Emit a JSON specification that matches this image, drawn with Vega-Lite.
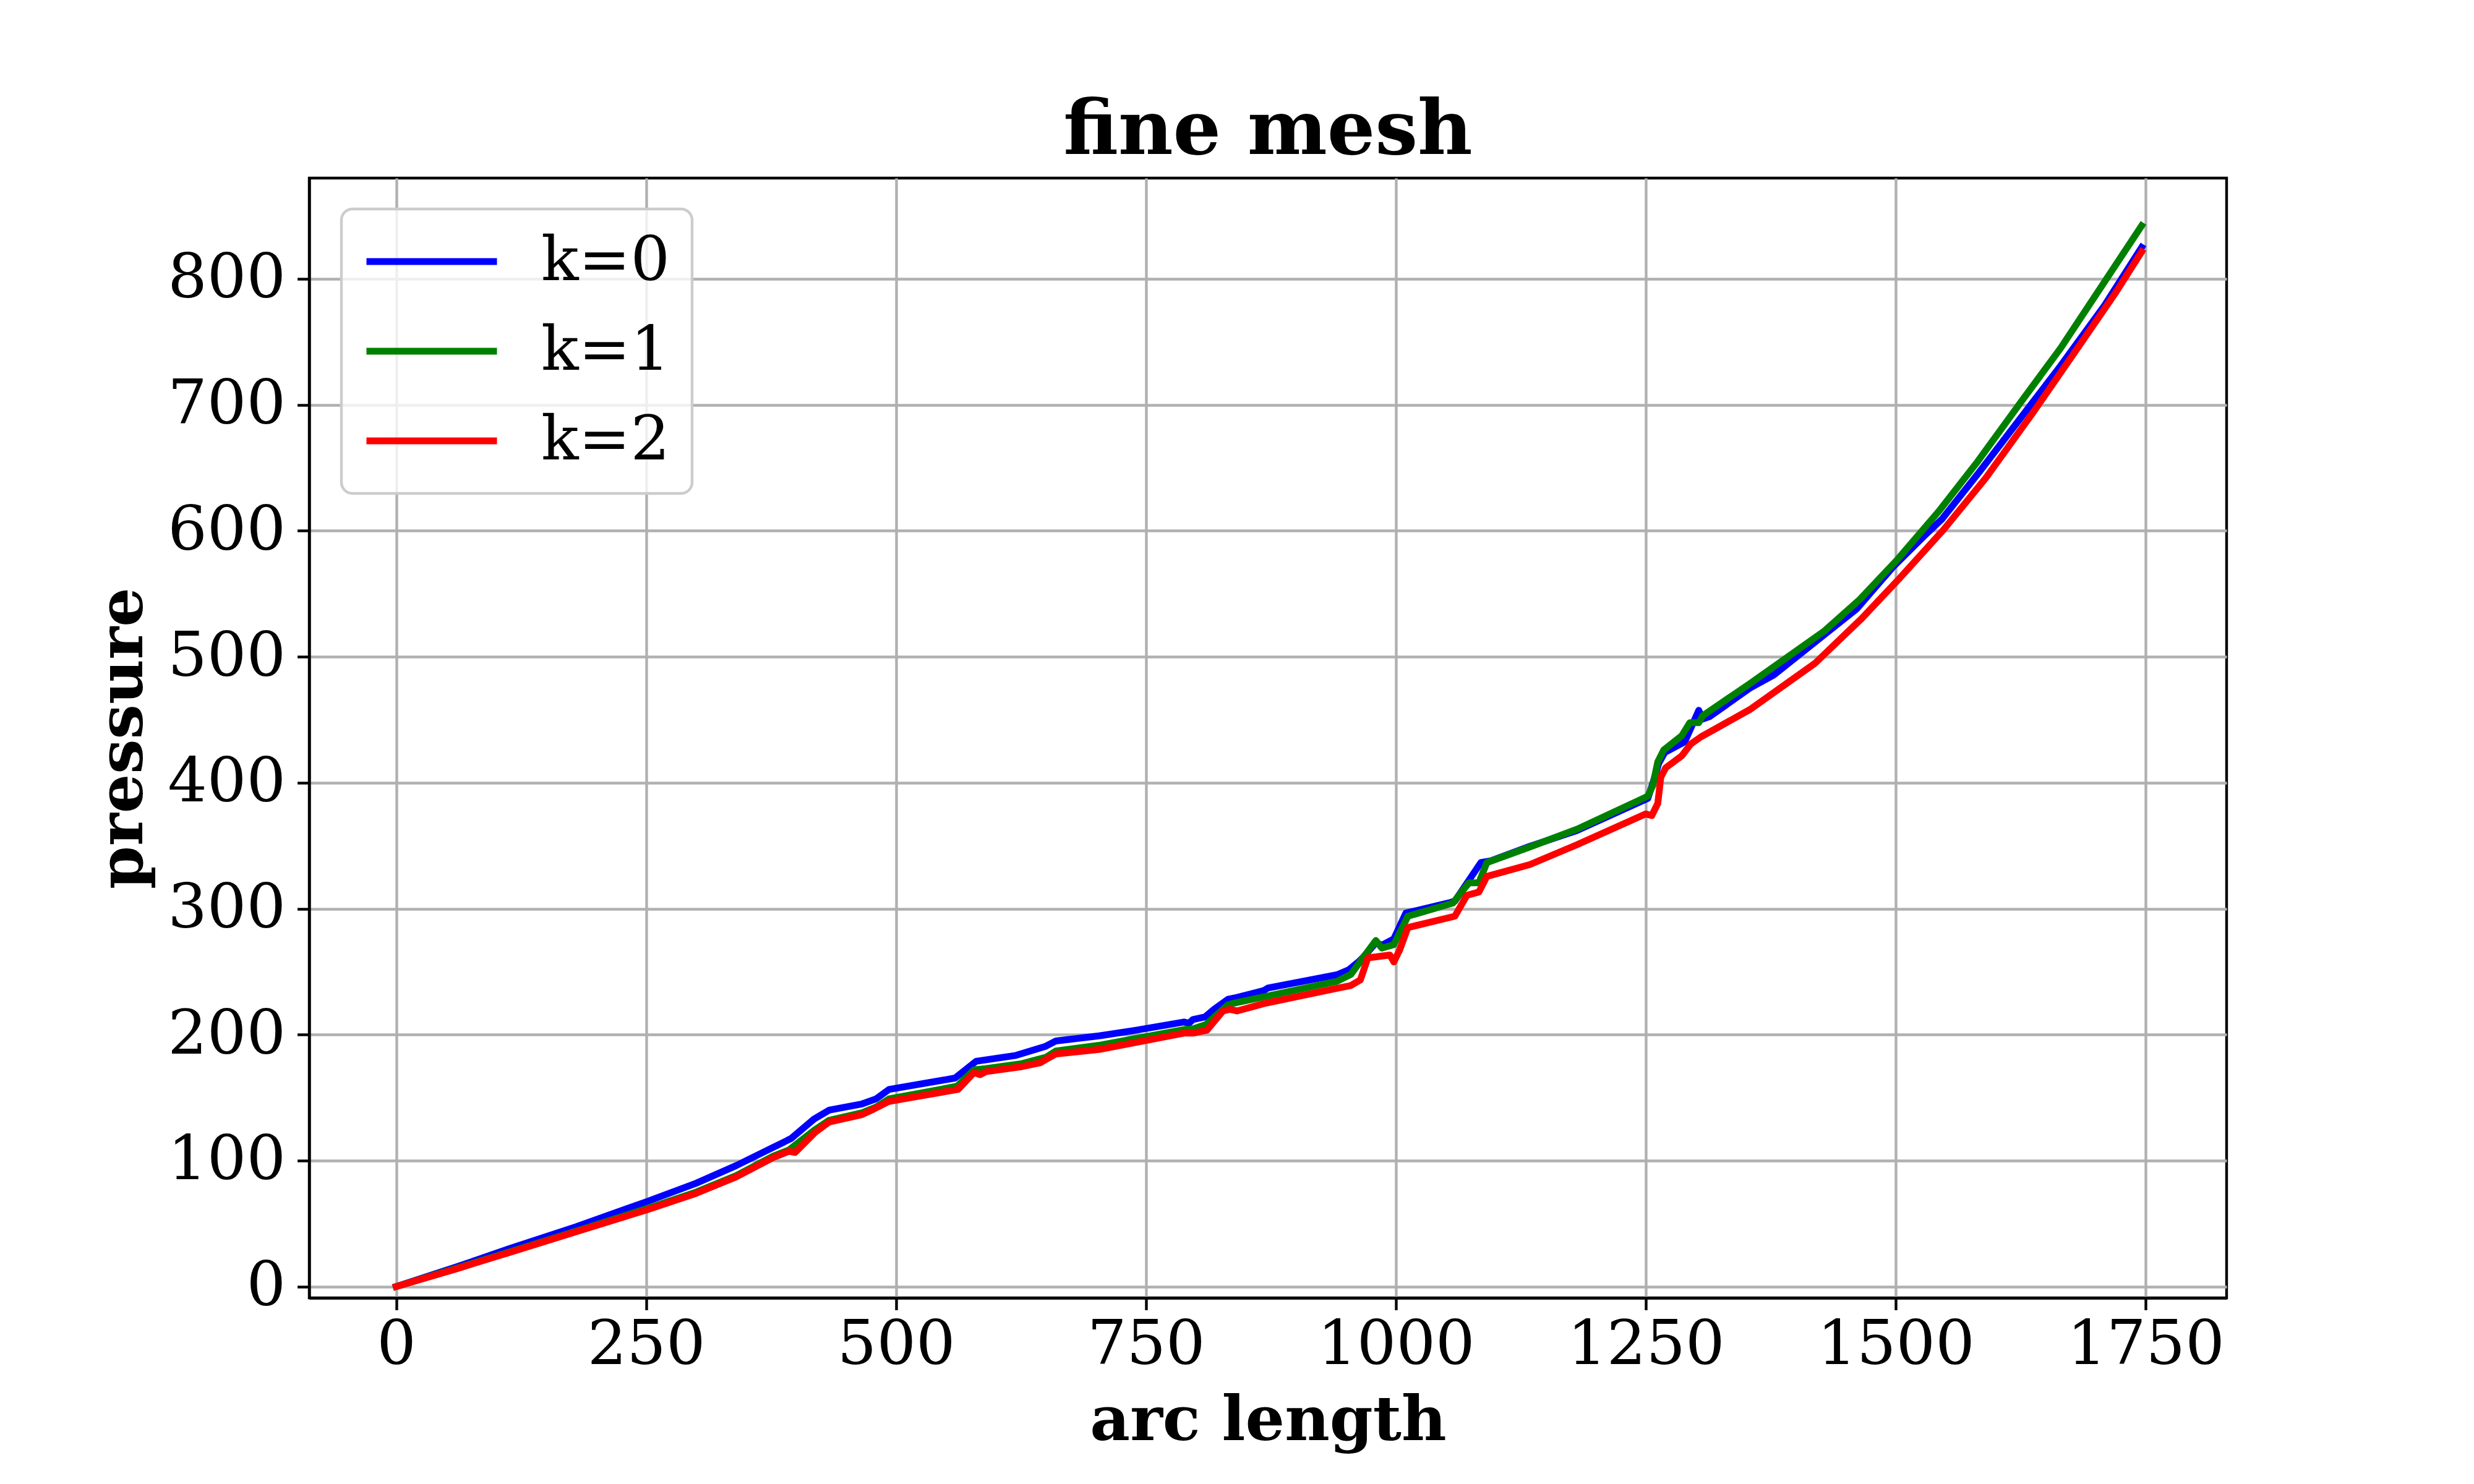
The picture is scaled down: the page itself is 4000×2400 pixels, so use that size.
{
  "$schema": "https://vega.github.io/schema/vega-lite/v6.json",
  "autosize": {"type": "none"},
  "width": 3100,
  "height": 1811,
  "padding": {"left": 500, "top": 288, "right": 400, "bottom": 301},
  "background": "white",
  "title": {"text": "fine mesh", "font": "DejaVu Serif", "fontSize": 122, "fontWeight": "bold", "color": "black", "anchor": "middle", "baseline": "alphabetic", "offset": -83, "frame": "group"},
  "data": {"values": [
    {"k":"k=0","s":0,"p":0},{"k":"k=0","s":60,"p":15.5},{"k":"k=0","s":113,"p":30},{"k":"k=0","s":180,"p":47.5},{"k":"k=0","s":251,"p":67.5},{"k":"k=0","s":300,"p":82},{"k":"k=0","s":340,"p":96},{"k":"k=0","s":377,"p":110.5},{"k":"k=0","s":395,"p":117.5},{"k":"k=0","s":418,"p":133},{"k":"k=0","s":433,"p":140},{"k":"k=0","s":466,"p":145},{"k":"k=0","s":480,"p":149},{"k":"k=0","s":493,"p":156.5},{"k":"k=0","s":559,"p":165.5},{"k":"k=0","s":580,"p":178.8},{"k":"k=0","s":620,"p":183.5},{"k":"k=0","s":649,"p":190.5},{"k":"k=0","s":660,"p":195},{"k":"k=0","s":703,"p":199},{"k":"k=0","s":740,"p":203.5},{"k":"k=0","s":788,"p":210},{"k":"k=0","s":793,"p":209},{"k":"k=0","s":797,"p":212},{"k":"k=0","s":809,"p":214},{"k":"k=0","s":818,"p":220},{"k":"k=0","s":832,"p":228},{"k":"k=0","s":841,"p":229.5},{"k":"k=0","s":868,"p":235},{"k":"k=0","s":872,"p":237},{"k":"k=0","s":941,"p":247.5},{"k":"k=0","s":953,"p":251.5},{"k":"k=0","s":963,"p":258},{"k":"k=0","s":968,"p":262},{"k":"k=0","s":980,"p":273},{"k":"k=0","s":986,"p":271},{"k":"k=0","s":998,"p":276},{"k":"k=0","s":1010,"p":296.5},{"k":"k=0","s":1055,"p":305},{"k":"k=0","s":1059,"p":306},{"k":"k=0","s":1085,"p":336.6},{"k":"k=0","s":1095,"p":338},{"k":"k=0","s":1134,"p":349.5},{"k":"k=0","s":1181,"p":362},{"k":"k=0","s":1252,"p":387.5},{"k":"k=0","s":1257,"p":399.5},{"k":"k=0","s":1263,"p":415.5},{"k":"k=0","s":1269,"p":424},{"k":"k=0","s":1289,"p":432.5},{"k":"k=0","s":1303,"p":457.5},{"k":"k=0","s":1307,"p":450.5},{"k":"k=0","s":1314,"p":452.5},{"k":"k=0","s":1354,"p":475},{"k":"k=0","s":1378,"p":485.5},{"k":"k=0","s":1461,"p":538},{"k":"k=0","s":1497,"p":571},{"k":"k=0","s":1528,"p":595.5},{"k":"k=0","s":1546,"p":609},{"k":"k=0","s":1583,"p":646},{"k":"k=0","s":1637,"p":702},{"k":"k=0","s":1665,"p":731},{"k":"k=0","s":1709,"p":779},{"k":"k=0","s":1746,"p":825},
    {"k":"k=1","s":0,"p":0},{"k":"k=1","s":60,"p":14.5},{"k":"k=1","s":113,"p":27.5},{"k":"k=1","s":180,"p":44},{"k":"k=1","s":251,"p":62},{"k":"k=1","s":300,"p":75},{"k":"k=1","s":340,"p":88},{"k":"k=1","s":377,"p":103.5},{"k":"k=1","s":393,"p":108.5},{"k":"k=1","s":418,"p":124},{"k":"k=1","s":433,"p":132},{"k":"k=1","s":466,"p":138},{"k":"k=1","s":480,"p":142.5},{"k":"k=1","s":493,"p":149},{"k":"k=1","s":561,"p":159},{"k":"k=1","s":578,"p":172},{"k":"k=1","s":590,"p":173},{"k":"k=1","s":626,"p":177},{"k":"k=1","s":650,"p":182},{"k":"k=1","s":660,"p":187},{"k":"k=1","s":703,"p":191.5},{"k":"k=1","s":788,"p":204},{"k":"k=1","s":797,"p":204.5},{"k":"k=1","s":810,"p":208},{"k":"k=1","s":832,"p":223.6},{"k":"k=1","s":838,"p":225},{"k":"k=1","s":868,"p":230},{"k":"k=1","s":941,"p":242.3},{"k":"k=1","s":955,"p":247.8},{"k":"k=1","s":968,"p":262},{"k":"k=1","s":980,"p":274.7},{"k":"k=1","s":986,"p":268.7},{"k":"k=1","s":998,"p":271.4},{"k":"k=1","s":1012,"p":294},{"k":"k=1","s":1057,"p":304.4},{"k":"k=1","s":1073,"p":320.5},{"k":"k=1","s":1083,"p":320.5},{"k":"k=1","s":1091,"p":336.6},{"k":"k=1","s":1134,"p":349},{"k":"k=1","s":1181,"p":363},{"k":"k=1","s":1252,"p":389.3},{"k":"k=1","s":1257,"p":397.7},{"k":"k=1","s":1262,"p":416.6},{"k":"k=1","s":1268,"p":426},{"k":"k=1","s":1286,"p":437.3},{"k":"k=1","s":1294,"p":447.6},{"k":"k=1","s":1303,"p":447.6},{"k":"k=1","s":1307,"p":453.2},{"k":"k=1","s":1354,"p":478.6},{"k":"k=1","s":1428,"p":520},{"k":"k=1","s":1464,"p":545.4},{"k":"k=1","s":1502,"p":577.4},{"k":"k=1","s":1543,"p":615.4},{"k":"k=1","s":1582,"p":655},{"k":"k=1","s":1626,"p":703},{"k":"k=1","s":1665,"p":745},{"k":"k=1","s":1709,"p":797.8},{"k":"k=1","s":1746,"p":842.2},
    {"k":"k=2","s":0,"p":0},{"k":"k=2","s":60,"p":14},{"k":"k=2","s":113,"p":27},{"k":"k=2","s":180,"p":43.5},{"k":"k=2","s":251,"p":61},{"k":"k=2","s":300,"p":74},{"k":"k=2","s":340,"p":87},{"k":"k=2","s":377,"p":102.4},{"k":"k=2","s":393,"p":107.4},{"k":"k=2","s":399,"p":106.4},{"k":"k=2","s":419,"p":122.4},{"k":"k=2","s":433,"p":130.6},{"k":"k=2","s":466,"p":136.5},{"k":"k=2","s":478,"p":141},{"k":"k=2","s":493,"p":147},{"k":"k=2","s":562,"p":156.5},{"k":"k=2","s":578,"p":169.9},{"k":"k=2","s":584,"p":168.2},{"k":"k=2","s":590,"p":170.6},{"k":"k=2","s":626,"p":174.6},{"k":"k=2","s":644,"p":177.6},{"k":"k=2","s":652,"p":181.2},{"k":"k=2","s":660,"p":184.7},{"k":"k=2","s":703,"p":188.2},{"k":"k=2","s":788,"p":201.2},{"k":"k=2","s":797,"p":201.2},{"k":"k=2","s":811,"p":203.5},{"k":"k=2","s":827,"p":218.8},{"k":"k=2","s":834,"p":220},{"k":"k=2","s":841,"p":218.8},{"k":"k=2","s":870,"p":225},{"k":"k=2","s":941,"p":236.8},{"k":"k=2","s":955,"p":239},{"k":"k=2","s":964.5,"p":243.4},{"k":"k=2","s":972,"p":261},{"k":"k=2","s":980,"p":261.7},{"k":"k=2","s":994,"p":263.2},{"k":"k=2","s":998,"p":257.7},{"k":"k=2","s":1004,"p":267.6},{"k":"k=2","s":1012,"p":285},{"k":"k=2","s":1059,"p":294},{"k":"k=2","s":1071,"p":310.6},{"k":"k=2","s":1083,"p":313.2},{"k":"k=2","s":1091,"p":325.6},{"k":"k=2","s":1134,"p":335},{"k":"k=2","s":1181,"p":350.7},{"k":"k=2","s":1250,"p":375.2},{"k":"k=2","s":1256,"p":373.9},{"k":"k=2","s":1262,"p":383.6},{"k":"k=2","s":1265,"p":404.3},{"k":"k=2","s":1270,"p":411.9},{"k":"k=2","s":1286,"p":421.3},{"k":"k=2","s":1295,"p":430.7},{"k":"k=2","s":1305,"p":436.3},{"k":"k=2","s":1354,"p":458},{"k":"k=2","s":1419,"p":494.6},{"k":"k=2","s":1466,"p":530.4},{"k":"k=2","s":1504,"p":562.4},{"k":"k=2","s":1548,"p":601},{"k":"k=2","s":1590,"p":641.8},{"k":"k=2","s":1637,"p":693.4},{"k":"k=2","s":1681,"p":744},{"k":"k=2","s":1720,"p":789},{"k":"k=2","s":1746,"p":821.5}
  ]},
  "mark": {"type": "line", "strokeWidth": 11, "strokeJoin": "round", "strokeCap": "square"},
  "encoding": {
    "x": {
      "field": "s", "type": "quantitative",
      "scale": {"domain": [-87, 1831], "nice": false, "zero": false},
      "axis": {"values": [0, 250, 500, 750, 1000, 1250, 1500, 1750], "format": "d", "title": "arc length", "titlePadding": 24, "labelPadding": 8}
    },
    "y": {
      "field": "p", "type": "quantitative",
      "scale": {"domain": [-9, 880], "nice": false, "zero": false},
      "axis": {"values": [0, 100, 200, 300, 400, 500, 600, 700, 800], "format": "d", "title": "pressure", "titlePadding": 50, "labelPadding": 19}
    },
    "color": {
      "field": "k", "type": "nominal",
      "scale": {"domain": ["k=0", "k=1", "k=2"], "range": ["#0000ff", "#008000", "#ff0000"]},
      "legend": {
        "title": null, "orient": "none", "legendX": 52, "legendY": 50, "direction": "vertical",
        "symbolType": "stroke", "symbolSize": 44521, "symbolStrokeWidth": 11, "clipHeight": 100,
        "labelFont": "DejaVu Serif", "labelFontSize": 100, "labelColor": "black", "labelOffset": 66, "labelLimit": 0,
        "padding": 35, "rowPadding": 45,
        "fillColor": "rgba(255,255,255,0.8)", "strokeColor": "#cccccc", "cornerRadius": 18,
        "encode": {"legend": {"update": {"strokeWidth": {"value": 4.4}}}}
      }
    }
  },
  "config": {
    "view": {"stroke": "black", "strokeWidth": 4.4},
    "axis": {
      "labelFont": "DejaVu Serif", "labelFontSize": 100, "labelColor": "black", "labelLimit": 0,
      "titleFont": "DejaVu Serif", "titleFontSize": 100, "titleFontWeight": "bold", "titleColor": "black",
      "tickSize": 19.4, "tickWidth": 4.4, "tickColor": "black",
      "domain": true, "domainColor": "black", "domainWidth": 4.4,
      "grid": true, "gridColor": "#b0b0b0", "gridWidth": 4.4, "labelFlush": false, "labelOverlap": false
    }
  }
}
